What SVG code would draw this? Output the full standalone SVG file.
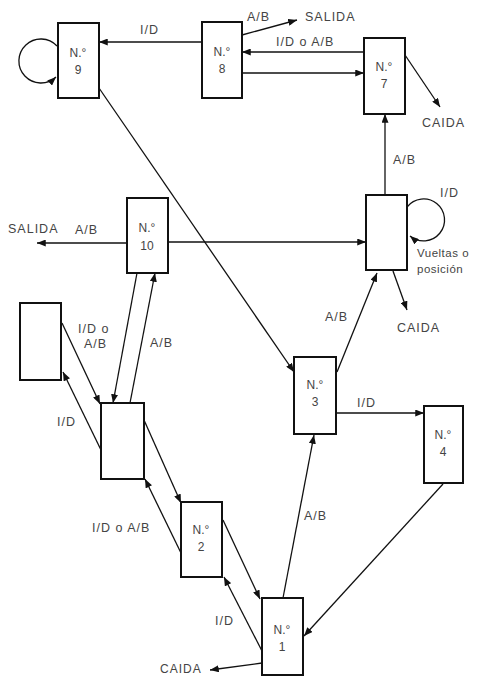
<svg xmlns="http://www.w3.org/2000/svg" width="480" height="677" viewBox="0 0 480 677">
<style>
.box{fill:#fff;stroke:#111;stroke-width:2}
.nl{font-family:"Liberation Sans",Arial,sans-serif;font-size:12px;fill:#444;text-anchor:middle}
.lb{font-family:"Liberation Sans",Arial,sans-serif;font-size:12.5px;fill:#444;letter-spacing:1px}
.e{fill:none;stroke:#111;stroke-width:1.3}
</style>
<defs>
<marker id="ah" viewBox="0 0 10 8" refX="10" refY="4" markerWidth="9" markerHeight="7" markerUnits="userSpaceOnUse" orient="auto">
<path d="M0,0 L10,4 L0,8 Z" fill="#111"/>
</marker>
</defs>
<rect width="480" height="677" fill="#fff"/>
<g id="connectors">
<path class="e" d="M202,42 L99,42" marker-end="url(#ah)"/>
<path class="e" d="M242,35 L297,20" marker-end="url(#ah)"/>
<path class="e" d="M364,52 L242,52" marker-end="url(#ah)"/>
<path class="e" d="M242,73 L364,73" marker-end="url(#ah)"/>
<path class="e" d="M405,55 L440,107" marker-end="url(#ah)"/>
<path class="e" d="M385,195 L385,114" marker-end="url(#ah)"/>
<path class="e" d="M407,207 A21,21 0 1 1 410,236" marker-end="url(#ah)"/>
<path class="e" d="M57,46 A22,22 0 1 0 56,77" marker-end="url(#ah)"/>
<path class="e" d="M393,271 L407,310" marker-end="url(#ah)"/>
<path class="e" d="M127,243 L37,243" marker-end="url(#ah)"/>
<path class="e" d="M168,242 L366,242" marker-end="url(#ah)"/>
<path class="e" d="M99,88 L294,372" marker-end="url(#ah)"/>
<path class="e" d="M337,372 L377,273" marker-end="url(#ah)"/>
<path class="e" d="M336,413 L424,413" marker-end="url(#ah)"/>
<path class="e" d="M443,484 L304,636" marker-end="url(#ah)"/>
<path class="e" d="M283,598 L314,435" marker-end="url(#ah)"/>
<path class="e" d="M262,663 L210,670" marker-end="url(#ah)"/>
<path class="e" d="M223,520 L260,599" marker-end="url(#ah)"/>
<path class="e" d="M262,651 L224,577" marker-end="url(#ah)"/>
<path class="e" d="M144,420 L181,503" marker-end="url(#ah)"/>
<path class="e" d="M181,553 L145,479" marker-end="url(#ah)"/>
<path class="e" d="M62,323 L100,404" marker-end="url(#ah)"/>
<path class="e" d="M101,450 L63,372" marker-end="url(#ah)"/>
<path class="e" d="M137,273 L113,403" marker-end="url(#ah)"/>
<path class="e" d="M130,403 L155,273" marker-end="url(#ah)"/>
</g>
<g id="labels">
<text class="lb" x="140" y="34">I/D</text>
<text class="lb" x="247" y="21">A/B</text>
<text class="lb" x="305" y="21">SALIDA</text>
<text class="lb" x="276" y="46">I/D o A/B</text>
<text class="lb" x="422" y="127">CAIDA</text>
<text class="lb" x="393" y="164">A/B</text>
<text class="lb" x="440" y="197">I/D</text>
<text class="lb" x="417" y="257" style="font-size:11.5px;letter-spacing:0.5px">Vueltas o</text>
<text class="lb" x="417" y="273" style="font-size:11.5px;letter-spacing:0.5px">posición</text>
<text class="lb" x="397" y="332">CAIDA</text>
<text class="lb" x="8" y="233">SALIDA</text>
<text class="lb" x="75" y="234">A/B</text>
<text class="lb" x="325" y="321">A/B</text>
<text class="lb" x="357" y="407">I/D</text>
<text class="lb" x="304" y="520">A/B</text>
<text class="lb" x="160" y="673" style="font-size:12px">CAIDA</text>
<text class="lb" x="215" y="625">I/D</text>
<text class="lb" x="92" y="532">I/D o A/B</text>
<text class="lb" x="78" y="333">I/D o</text>
<text class="lb" x="84" y="348">A/B</text>
<text class="lb" x="57" y="426">I/D</text>
<text class="lb" x="150" y="347">A/B</text>
</g>
<g id="n9"><rect class="box" x="58" y="23" width="41" height="75"/><text class="nl" x="78" y="57">N.°</text><text class="nl" x="78" y="74">9</text></g>
<g id="n8"><rect class="box" x="202" y="22" width="40" height="76"/><text class="nl" x="222" y="56">N.°</text><text class="nl" x="222" y="73">8</text></g>
<g id="n7"><rect class="box" x="364" y="38" width="41" height="76"/><text class="nl" x="384" y="71">N.°</text><text class="nl" x="384" y="88">7</text></g>
<g id="n6"><rect class="box" x="366" y="195" width="41" height="75"/></g>
<g id="n10"><rect class="box" x="127" y="198" width="41" height="75"/><text class="nl" x="147" y="232">N.°</text><text class="nl" x="147" y="250">10</text></g>
<g id="n11"><rect class="box" x="20" y="303" width="41" height="77"/></g>
<g id="n5"><rect class="box" x="101" y="403" width="43" height="76"/></g>
<g id="n3"><rect class="box" x="294" y="357" width="42" height="77"/><text class="nl" x="315" y="389">N.°</text><text class="nl" x="315" y="406">3</text></g>
<g id="n4"><rect class="box" x="424" y="406" width="39" height="77"/><text class="nl" x="443" y="439">N.°</text><text class="nl" x="443" y="456">4</text></g>
<g id="n2"><rect class="box" x="181" y="502" width="41" height="75"/><text class="nl" x="201" y="534">N.°</text><text class="nl" x="201" y="551">2</text></g>
<g id="n1"><rect class="box" x="262" y="598" width="41" height="77"/><text class="nl" x="282" y="634">N.°</text><text class="nl" x="282" y="651">1</text></g>
</svg>
